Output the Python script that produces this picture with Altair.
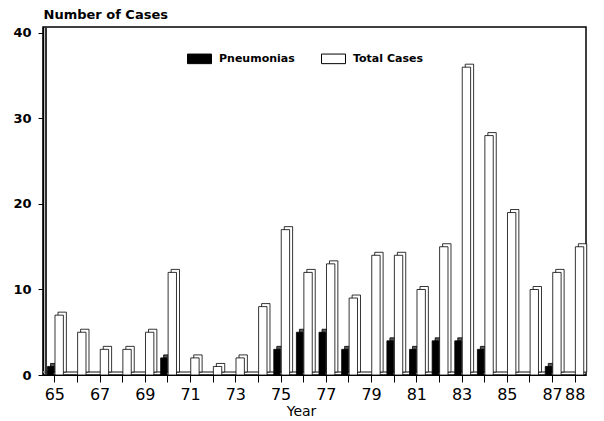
import altair as alt
import pandas as pd

years = list(range(65, 89))
total_cases = [7, 5, 3, 3, 5, 12, 2, 1, 2, 8, 17, 12, 13, 9, 14, 14, 10, 15, 36, 28, 19, 10, 12, 15]
pneumonias = [1, 0, 0, 0, 0, 2, 0, 0, 0, 0, 3, 5, 5, 3, 0, 4, 3, 4, 4, 3, 0, 0, 1, 0]
series_names = ["Pneumonias", "Total Cases"]
y_ticks = [0, 10, 20, 30, 40]

rows = []
for yr, p, t in zip(years, pneumonias, total_cases):
    rows.append({"year": yr, "series": "Pneumonias", "value": p})
    rows.append({"year": yr, "series": "Total Cases", "value": t})
df = pd.DataFrame(rows)

FONT = "DejaVu Sans"
xscale = alt.Scale(domain=[64.5, 88.5], nice=False, zero=False)
yscale = alt.Scale(domain=[0, 40.7], nice=False)

xaxis = alt.Axis(
    values=years, format="d",
    labelExpr="(datum.value % 2 == 1 || datum.value == 88) ? datum.label : ''",
    labelOverlap=False, labelFlush=False,
    title="Year", titleFont=FONT, titleFontSize=14, titleFontWeight="normal",
    titleX=258, titlePadding=2, titleColor="black",
    labelFont=FONT, labelFontSize=16, labelColor="black", labelPadding=4,
    tickSize=7, tickColor="black", domainColor="black", domainWidth=1.2, grid=False,
)
yaxis = alt.Axis(
    values=y_ticks,
    title="Number of Cases", titleAngle=0, titleAlign="left", titleBaseline="alphabetic",
    titleX=0, titleY=-9, titleFont=FONT, titleFontSize=13, titleFontWeight="bold", titleColor="black",
    labelFont=FONT, labelFontSize=13, labelFontWeight="bold", labelColor="black", labelPadding=7,
    tickSize=5, tickColor="black", domainColor="black", domainWidth=1.5, grid=False,
)

base = alt.Chart(df).transform_filter("datum.value > 0").transform_calculate(
    x0="datum.series == 'Pneumonias' ? datum.year - 0.3 : datum.year + 0.03",
    x1="datum.series == 'Pneumonias' ? datum.year - 0.02 : datum.year + 0.4",
)

depth = base.mark_bar(
    xOffset=3, x2Offset=3, yOffset=-3, y2Offset=-3, stroke="black", strokeWidth=0.8
).encode(
    x=alt.X("x0:Q", scale=xscale, axis=xaxis),
    x2="x1:Q",
    y=alt.Y("value:Q", scale=yscale, axis=yaxis),
    y2=alt.datum(0),
    fill=alt.condition("datum.series == 'Pneumonias'", alt.value("#555555"), alt.value("white")),
)

front = base.mark_bar(stroke="black", strokeWidth=0.8).encode(
    x=alt.X("x0:Q", scale=xscale, axis=xaxis),
    x2="x1:Q",
    y=alt.Y("value:Q", scale=yscale, axis=yaxis),
    y2=alt.datum(0),
    fill=alt.Fill(
        "series:N",
        scale=alt.Scale(domain=series_names, range=["black", "white"]),
        legend=alt.Legend(
            title=None, orient="none", legendX=144, legendY=19, direction="horizontal",
            symbolType="M-1,-0.4H1V0.4H-1Z", symbolSize=576,
            symbolStrokeColor="black", symbolStrokeWidth=1,
            labelFont=FONT, labelFontSize=11, labelFontWeight="bold", labelColor="black",
            labelOffset=7, columnPadding=24, padding=0,
        ),
    ),
)

floor = alt.Chart(df).mark_rule(yOffset=-3, color="#888888", strokeWidth=1).encode(
    x=alt.value(0), x2=alt.value(543), y=alt.datum(0, scale=yscale)
)
wall = alt.Chart(df).mark_rule(xOffset=3, color="#333333", strokeWidth=0.8).encode(
    x=alt.value(0), y=alt.value(0), y2=alt.value(348)
)

chart = alt.layer(floor, wall, depth, front).properties(
    width=543, height=348, padding={"left": 4, "top": 0, "right": 5, "bottom": 0},
    background="white",
).configure_view(stroke="black", strokeWidth=1.5)

chart.save("out.html", embed_options={"renderer": "svg", "actions": False})
